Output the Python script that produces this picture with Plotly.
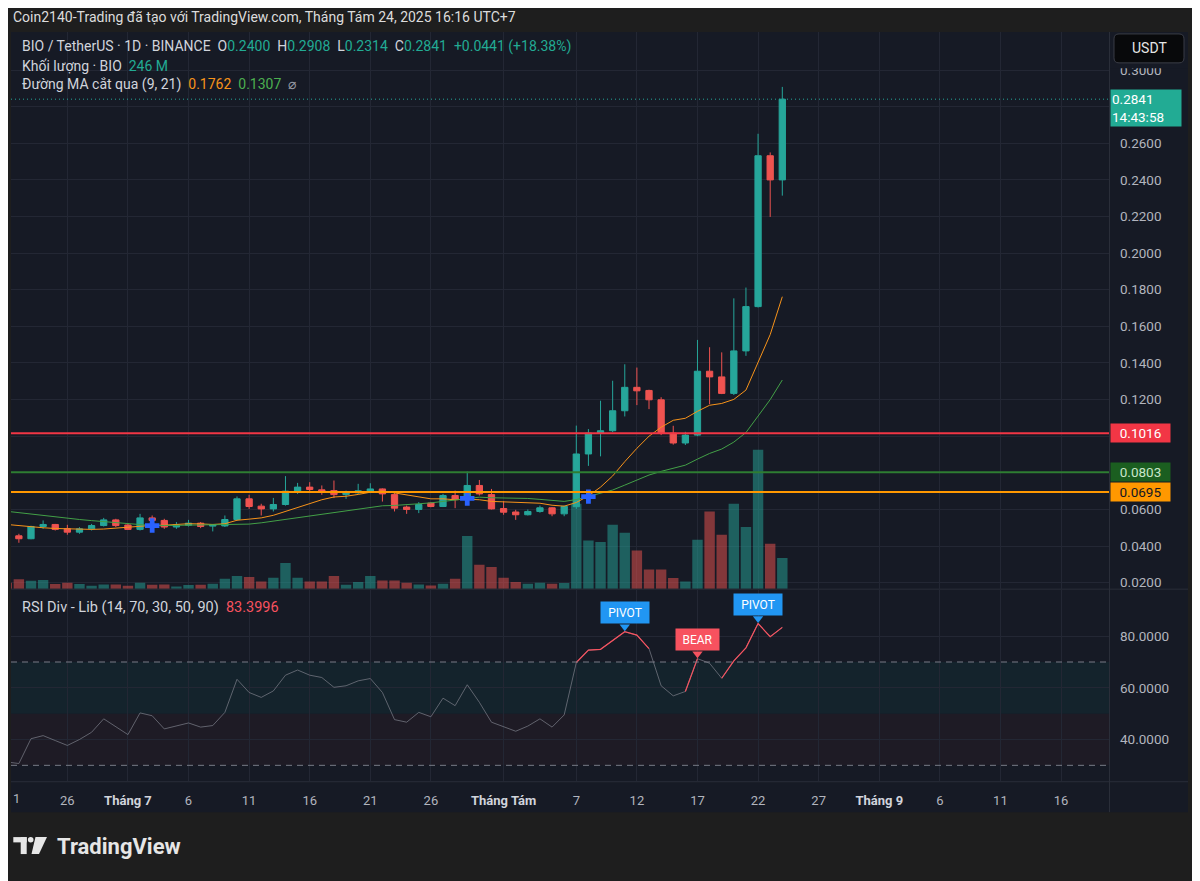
import plotly.graph_objects as go
import pandas as pd

# The page is photographed with the browser's 8px body margin, so the figure is
# sized/offset to land on the reference pixel grid.
OFF = 8
W, H = 1200 - OFF, 881 - OFF
def px(x): return (x - OFF) / W
def py(y): return 1 - (y - OFF) / H

# ---------------- data ----------------
dates = pd.date_range("2025-06-21", periods=65, freq="D")

opens = [0.0489, 0.0456, 0.0440, 0.0507, 0.0518, 0.0495, 0.0476, 0.0494, 0.0512, 0.0543,
         0.0515, 0.0491, 0.0554, 0.0540, 0.0504, 0.0514, 0.0525, 0.0509, 0.0510, 0.0545,
         0.0658, 0.0618, 0.0603, 0.0627, 0.0700, 0.0722, 0.0707, 0.0703, 0.0681, 0.0691,
         0.0700, 0.0712, 0.0681, 0.0613, 0.0600, 0.0635, 0.0616, 0.0676, 0.0665, 0.0731,
         0.0681, 0.0605, 0.0586, 0.0571, 0.0589, 0.0609, 0.0576, 0.0615, 0.0903, 0.1017,
         0.1030, 0.1139, 0.1267, 0.1250, 0.1199, 0.1017, 0.0963, 0.1006, 0.1355, 0.1324,
         0.1234, 0.1466, 0.1708, 0.2532, 0.2400]
highs = [0.0505, 0.0467, 0.0511, 0.0540, 0.0521, 0.0516, 0.0503, 0.0521, 0.0554, 0.0549,
         0.0525, 0.0576, 0.0567, 0.0549, 0.0531, 0.0543, 0.0531, 0.0521, 0.0567, 0.0671,
         0.0680, 0.0631, 0.0663, 0.0782, 0.0745, 0.0749, 0.0731, 0.0758, 0.0703, 0.0740,
         0.0743, 0.0715, 0.0689, 0.0621, 0.0640, 0.0640, 0.0685, 0.0703, 0.0807, 0.0761,
         0.0712, 0.0645, 0.0598, 0.0600, 0.0621, 0.0613, 0.0621, 0.1058, 0.1039, 0.1194,
         0.1303, 0.1393, 0.1375, 0.1254, 0.1213, 0.1057, 0.1024, 0.1526, 0.1486, 0.1458,
         0.1753, 0.1812, 0.2652, 0.2550, 0.2908]
lows = [0.0440, 0.0418, 0.0437, 0.0494, 0.0485, 0.0462, 0.0467, 0.0485, 0.0507, 0.0504,
        0.0489, 0.0485, 0.0531, 0.0494, 0.0494, 0.0507, 0.0498, 0.0480, 0.0504, 0.0540,
        0.0603, 0.0567, 0.0589, 0.0621, 0.0685, 0.0694, 0.0680, 0.0662, 0.0658, 0.0685,
        0.0689, 0.0643, 0.0589, 0.0576, 0.0580, 0.0612, 0.0613, 0.0607, 0.0658, 0.0676,
        0.0600, 0.0571, 0.0543, 0.0567, 0.0582, 0.0563, 0.0563, 0.0603, 0.0838, 0.0890,
        0.1023, 0.1108, 0.1170, 0.1148, 0.1006, 0.0954, 0.0952, 0.1000, 0.1175, 0.1230,
        0.1225, 0.1439, 0.1703, 0.2198, 0.2314]
closes = [0.0456, 0.0440, 0.0507, 0.0518, 0.0491, 0.0476, 0.0494, 0.0512, 0.0543, 0.0512,
          0.0491, 0.0554, 0.0540, 0.0504, 0.0516, 0.0525, 0.0507, 0.0516, 0.0545, 0.0658,
          0.0616, 0.0603, 0.0627, 0.0700, 0.0722, 0.0709, 0.0700, 0.0681, 0.0694, 0.0702,
          0.0712, 0.0685, 0.0607, 0.0600, 0.0627, 0.0616, 0.0676, 0.0654, 0.0731, 0.0685,
          0.0603, 0.0585, 0.0571, 0.0589, 0.0609, 0.0576, 0.0617, 0.0903, 0.1017, 0.1030,
          0.1139, 0.1267, 0.1248, 0.1199, 0.1017, 0.0963, 0.1006, 0.1355, 0.1324, 0.1234,
          0.1466, 0.1708, 0.2532, 0.2400, 0.2841]
volumes_m = [48, 75, 64, 70, 38, 48, 38, 24, 34, 34,
             24, 48, 32, 34, 18, 30, 32, 40, 80, 102,
             94, 58, 88, 205, 88, 58, 58, 102, 32, 54,
             102, 66, 66, 48, 34, 26, 40, 80, 422, 192,
             174, 88, 54, 40, 48, 40, 46, 680, 386, 374,
             512, 448, 306, 154, 154, 86, 58, 392, 618, 432,
             680, 494, 1114, 360, 246]
ma9 = [0.0518, 0.0511, 0.0505, 0.0500, 0.0496, 0.0494, 0.0493, 0.0491, 0.0493, 0.0499,
       0.0505, 0.0510, 0.0513, 0.0514, 0.0518, 0.0522, 0.0521, 0.0518, 0.0522, 0.0541,
       0.0547, 0.0554, 0.0568, 0.0589, 0.0610, 0.0633, 0.0653, 0.0668, 0.0672, 0.0682,
       0.0694, 0.0701, 0.0690, 0.0677, 0.0668, 0.0658, 0.0658, 0.0653, 0.0656, 0.0653,
       0.0644, 0.0642, 0.0639, 0.0634, 0.0634, 0.0623, 0.0618, 0.0638, 0.0674, 0.0722,
       0.0783, 0.0861, 0.0934, 0.1000, 0.1049, 0.1087, 0.1098, 0.1136, 0.1169, 0.1179,
       0.1201, 0.1252, 0.1401, 0.1555, 0.1762]
ma21 = [0.0590, 0.0582, 0.0574, 0.0566, 0.0558, 0.0551, 0.0545, 0.0539, 0.0533, 0.0527,
        0.0522, 0.0517, 0.0512, 0.0512, 0.0513, 0.0514, 0.0515, 0.0516, 0.0517, 0.0518,
        0.0520, 0.0527, 0.0536, 0.0545, 0.0555, 0.0565, 0.0576, 0.0585, 0.0594, 0.0601,
        0.0611, 0.0620, 0.0622, 0.0625, 0.0631, 0.0636, 0.0643, 0.0650, 0.0660, 0.0667,
        0.0664, 0.0663, 0.0661, 0.0660, 0.0655, 0.0648, 0.0644, 0.0654, 0.0670, 0.0686,
        0.0706, 0.0733, 0.0760, 0.0788, 0.0808, 0.0824, 0.0842, 0.0875, 0.0906, 0.0930,
        0.0968, 0.1020, 0.1113, 0.1200, 0.1307]
rsi = [31.3, 30.7, 40.3, 41.5, 39.6, 37.7, 40.0, 42.8, 48.0, 45.0,
       41.9, 50.3, 49.2, 44.1, 45.2, 46.4, 44.8, 45.4, 50.5, 63.3,
       58.2, 56.3, 58.8, 64.9, 66.9, 64.9, 64.0, 60.2, 60.8, 62.7,
       63.6, 58.2, 47.7, 46.7, 50.5, 48.8, 56.0, 53.1, 61.2, 54.4,
       46.7, 44.8, 43.2, 45.2, 48.0, 44.8, 49.5, 69.8, 74.6, 74.9,
       78.3, 81.7, 80.4, 75.2, 60.8, 56.9, 58.6, 71.3, 69.5, 63.7,
       70.4, 75.5, 84.9, 79.8, 83.4]

level_prices = [0.1016, 0.0803, 0.0695]
level_colors = ["#f23645", "#2e7d32", "#ff9800"]
level_box = ["#f23645", "#1b5e20", "#ff9800"]
level_text = ["#ffffff", "#c8e6c9", "#131722"]
last_price = 0.2841
countdown = "14:43:58"

price_ticks = [0.02, 0.04, 0.06, 0.08, 0.10, 0.12, 0.14, 0.16, 0.18, 0.20, 0.22, 0.24, 0.26, 0.28, 0.30]
price_hidden = [0.08, 0.10, 0.28]   # labels covered by the price tags in the reference
rsi_ticks = [40, 60, 80]
x_tickvals = ["2025-06-21", "2025-06-26", "2025-07-01", "2025-07-06", "2025-07-11", "2025-07-16",
              "2025-07-21", "2025-07-26", "2025-08-01", "2025-08-07", "2025-08-12", "2025-08-17",
              "2025-08-22", "2025-08-27", "2025-09-01", "2025-09-06", "2025-09-11", "2025-09-16"]
MON = "<span style='color:#d1d4dc'><b>%s</b></span>"
x_ticktext = ["21", "26", MON % "Tháng 7", "6", "11", "16", "21", "26", MON % "Tháng Tám",
              "7", "12", "17", "22", "27", MON % "Tháng 9", "6", "11", "16"]
pivot_idx = [51, 62]
bear_idx = [57]

# ---------------- style ----------------
UP = "#26a69a"
DN = "#ef5350"
GRID = "#232734"
BG = "#161a25"
PAGE = "#1e1e1e"
SEP = "#2a2e39"
TXT = "#b2b5be"
FONT = "Roboto, Inter, Arial, sans-serif"
XR = ["2025-06-21 08:24", "2025-09-19 23:02"]

fig = go.Figure()

vol_colors = ["rgba(38,166,154,0.5)" if c >= o else "rgba(239,83,80,0.5)" for o, c in zip(opens, closes)]
fig.add_trace(go.Bar(x=dates, y=volumes_m, marker=dict(color=vol_colors, line=dict(width=0)),
                     width=0.86 * 86400000, xaxis="x", yaxis="y", hoverinfo="skip"))

fig.add_trace(go.Candlestick(x=dates, open=opens, high=highs, low=lows, close=closes,
                             increasing=dict(line=dict(color=UP, width=1), fillcolor=UP),
                             decreasing=dict(line=dict(color=DN, width=1), fillcolor=DN),
                             whiskerwidth=0, xaxis="x", yaxis="y2", hoverinfo="skip"))

fig.add_trace(go.Scatter(x=dates, y=ma9, mode="lines", line=dict(color="#f7931a", width=1),
                         xaxis="x", yaxis="y2", hoverinfo="skip"))
fig.add_trace(go.Scatter(x=dates, y=ma21, mode="lines", line=dict(color="#43a047", width=1),
                         xaxis="x", yaxis="y2", hoverinfo="skip"))

# MA cross markers
cx, cy = [], []
for i in range(1, len(ma9)):
    if (ma9[i] - ma21[i]) * (ma9[i - 1] - ma21[i - 1]) < 0:
        cx.append(dates[i]); cy.append(ma21[i])
fig.add_trace(go.Scatter(x=cx, y=cy, mode="markers",
                         marker=dict(symbol="cross", size=12, color="#2962ff", line=dict(width=0)),
                         xaxis="x", yaxis="y2", hoverinfo="skip"))

# RSI
fig.add_trace(go.Scatter(x=dates, y=rsi, mode="lines", line=dict(color="rgba(120,123,134,0.75)", width=1),
                         xaxis="x2", yaxis="y3", hoverinfo="skip"))
rx, ry = [], []
prev_end = None
for i in range(1, len(rsi)):
    if rsi[i] > 70:
        if prev_end != i - 1:
            if rx:
                rx.append(None); ry.append(None)
            rx.append(dates[i - 1]); ry.append(rsi[i - 1])
        rx.append(dates[i]); ry.append(rsi[i])
        prev_end = i
fig.add_trace(go.Scatter(x=rx, y=ry, mode="lines", line=dict(color="#f7525f", width=1.2),
                         xaxis="x2", yaxis="y3", hoverinfo="skip", connectgaps=False))

# label pointers
tri_x = [dates[i] for i in pivot_idx + bear_idx]
tri_y = [rsi[i] + 1.9 for i in pivot_idx + bear_idx]
tri_c = ["#2196f3"] * len(pivot_idx) + ["#f7525f"] * len(bear_idx)
fig.add_trace(go.Scatter(x=tri_x, y=tri_y, mode="markers",
                         marker=dict(symbol="triangle-down", size=9, color=tri_c, line=dict(width=0)),
                         xaxis="x2", yaxis="y3", hoverinfo="skip"))

# ---------------- shapes ----------------
shapes = []
shapes.append(dict(type="rect", xref="paper", yref="paper", x0=px(11), x1=px(1188), y0=py(814), y1=py(32),
                   fillcolor=BG, line=dict(width=0), layer="below"))
for yy in [590.5, 783.5]:
    shapes.append(dict(type="line", xref="paper", yref="paper", x0=px(11), x1=px(1188), y0=py(yy), y1=py(yy),
                       line=dict(color=SEP, width=1), layer="below"))
shapes.append(dict(type="line", xref="paper", yref="paper", x0=px(1109.5), x1=px(1109.5), y0=py(814), y1=py(32),
                   line=dict(color=SEP, width=1), layer="below"))
# RSI bands
shapes.append(dict(type="rect", xref="x2 domain", yref="y3", x0=0, x1=1, y0=50, y1=70,
                   fillcolor="rgba(0,150,136,0.07)", line=dict(width=0), layer="below"))
shapes.append(dict(type="rect", xref="x2 domain", yref="y3", x0=0, x1=1, y0=30, y1=50,
                   fillcolor="rgba(242,54,69,0.035)", line=dict(width=0), layer="below"))
for lv in [70, 30]:
    shapes.append(dict(type="line", xref="x2 domain", yref="y3", x0=0, x1=1, y0=lv, y1=lv,
                       line=dict(color="#787b86", width=1, dash="6px,5px"), layer="above"))
# level lines
for p, c in zip(level_prices, level_colors):
    shapes.append(dict(type="line", xref="x domain", yref="y2", x0=0, x1=1, y0=p, y1=p,
                       line=dict(color=c, width=2), layer="above"))
shapes.append(dict(type="line", xref="x domain", yref="y2", x0=0, x1=1, y0=last_price, y1=last_price,
                   line=dict(color=UP, width=1, dash="1px,3px"), layer="above"))
# mask at top of price scale + USDT box
shapes.append(dict(type="rect", xref="paper", yref="paper", x0=px(1110), x1=px(1188), y0=py(68.5), y1=py(32),
                   fillcolor=BG, line=dict(width=0), layer="above"))

def rrect(x0, y0, x1, y1, r):
    P = lambda x, y: "%.6f,%.6f" % (px(x), py(y))
    return ("M" + P(x0 + r, y0) + " L" + P(x1 - r, y0) + " Q" + P(x1, y0) + " " + P(x1, y0 + r) +
            " L" + P(x1, y1 - r) + " Q" + P(x1, y1) + " " + P(x1 - r, y1) +
            " L" + P(x0 + r, y1) + " Q" + P(x0, y1) + " " + P(x0, y1 - r) +
            " L" + P(x0, y0 + r) + " Q" + P(x0, y0) + " " + P(x0 + r, y0) + " Z")

shapes.append(dict(type="path", xref="paper", yref="paper", path=rrect(1114, 34, 1184, 63, 5),
                   fillcolor="#08090b", line=dict(color="#3a3d46", width=1), layer="above"))

# TradingView logo
LOGO = "#e6e6e6"
shapes.append(dict(type="rect", xref="paper", yref="paper", x0=px(13.3), x1=px(26.7), y0=py(844.3), y1=py(839),
                   fillcolor=LOGO, line=dict(width=0), layer="above"))
shapes.append(dict(type="rect", xref="paper", yref="paper", x0=px(20.7), x1=px(26.7), y0=py(856), y1=py(839),
                   fillcolor=LOGO, line=dict(width=0), layer="above"))
shapes.append(dict(type="circle", xref="paper", yref="paper", x0=px(27.9), x1=px(33.5), y0=py(844.5), y1=py(838.9),
                   fillcolor=LOGO, line=dict(width=0), layer="above"))
pts = [(35.5, 839), (47, 839), (39, 856), (31.5, 856)]
shapes.append(dict(type="path", xref="paper", yref="paper",
                   path="M" + " L".join("%.6f,%.6f" % (px(a), py(b)) for a, b in pts) + " Z",
                   fillcolor=LOGO, line=dict(width=0), layer="above"))

# ---------------- annotations ----------------
ann = []
def A(x, y, text, size=14, color="#d1d4dc", **kw):
    d = dict(xref="paper", yref="paper", x=px(x), y=py(y), text=text, showarrow=False,
             xanchor="left", yanchor="middle", font=dict(family=FONT, size=size, color=color))
    d.update(kw)
    ann.append(d)

S = "\u00a0"
def col(t, c): return "<span style='color:%s'>%s</span>" % (c, t)
TEAL = "#22ab94"
A(11, 17, "Coin2140-Trading đã tạo với TradingView.com, Tháng Tám 24, 2025 16:16 UTC+7", size=14, color="#dcdcdc")
A(20, 47, "BIO / TetherUS · 1D · BINANCE" + S * 2 + "O" + col("0.2400", TEAL) + S * 2 + "H" + col("0.2908", TEAL) +
  S * 2 + "L" + col("0.2314", TEAL) + S * 2 + "C" + col("0.2841", TEAL) + S * 2 + col("+0.0441 (+18.38%)", TEAL))
A(20, 66, "Khối lượng · BIO" + S * 2 + col("246" + S + "M", TEAL))
A(20, 85, "Đường MA cắt qua (9, 21)" + S * 2 + col("0.1762", "#f7931a") + S * 2 + col("0.1307", "#4caf50") +
  S * 2 + col("⌀", "#9598a1"))
A(20, 609, "RSI Div - Lib (14, 70, 30, 50, 90)" + S * 2 + col("83.3996", "#f7525f"), size=14.5)
A(10.5, 800, "1", size=13, color=TXT)
A(1149, 48.5, "USDT", size=14, color="#e6e6e6", xanchor="center")
A(55, 848, "<b>TradingView</b>", size=22, color=LOGO)

for p, bc, tc in zip(level_prices, level_box, level_text):
    ann.append(dict(xref="paper", yref="y2", x=px(1110), y=p, xanchor="left", yanchor="middle",
                    text="%.4f" % p, showarrow=False, bgcolor=bc, width=57, height=16, borderpad=1,
                    align="center", font=dict(family=FONT, size=13.5, color=tc)))
ann.append(dict(xref="paper", yref="y2", x=px(1110), y=last_price, xanchor="left", yanchor="top", yshift=10,
                text="%.4f<br>%s" % (last_price, countdown), showarrow=False, bgcolor="#22ab94",
                width=68, borderpad=1, align="left", font=dict(family=FONT, size=13.5, color="#ffffff")))

for i in pivot_idx:
    ann.append(dict(xref="x2", yref="y3", x=dates[i], y=rsi[i], text="PIVOT", showarrow=False,
                    xanchor="center", yanchor="bottom", yshift=8, bgcolor="#2196f3", borderpad=4,
                    width=40, height=13, font=dict(family=FONT, size=12, color="#ffffff")))
for i in bear_idx:
    ann.append(dict(xref="x2", yref="y3", x=dates[i], y=rsi[i], text="BEAR", showarrow=False,
                    xanchor="center", yanchor="bottom", yshift=8, bgcolor="#f7525f", borderpad=4,
                    width=35, height=13, font=dict(family=FONT, size=12, color="#ffffff")))

price_ticktext = ["" if v in price_hidden else "%.4f" % v for v in price_ticks]

fig.update_layout(
    width=W, height=H, margin=dict(l=0, r=0, t=0, b=0),
    paper_bgcolor=PAGE, plot_bgcolor="rgba(0,0,0,0)",
    showlegend=False, hovermode=False, boxgap=0.26,
    font=dict(family=FONT, color=TXT, size=13),
    xaxis=dict(domain=[px(11), px(1109)], range=XR, type="date", anchor="y", tickvals=x_tickvals,
               showticklabels=False, showgrid=True, gridcolor=GRID, zeroline=False, showline=False,
               ticks="", rangeslider=dict(visible=False)),
    xaxis2=dict(domain=[px(11), px(1109)], range=XR, type="date", anchor="y3", tickvals=x_tickvals,
                ticktext=x_ticktext, tickfont=dict(family=FONT, size=13, color=TXT), showgrid=True,
                gridcolor=GRID, zeroline=False, showline=False, ticks="", ticklabelstandoff=10),
    yaxis=dict(domain=[py(590), py(32)], range=[0, 4464], visible=False, anchor="x", fixedrange=True),
    yaxis2=dict(overlaying="y", side="right", anchor="x", range=[0.01673, 0.32082], tickvals=price_ticks,
                ticktext=price_ticktext, showgrid=True, gridcolor=GRID, zeroline=False, showline=False,
                ticks="", ticklabelstandoff=10, tickfont=dict(family=FONT, size=13.5, color=TXT)),
    yaxis3=dict(domain=[py(783), py(591)], anchor="x2", side="right", range=[23.85, 98], tickvals=rsi_ticks,
                tickformat=".4f", showgrid=True, gridcolor=GRID, zeroline=False, showline=False, ticks="",
                ticklabelstandoff=10, tickfont=dict(family=FONT, size=13.5, color=TXT)),
    shapes=shapes, annotations=ann,
)

fig.write_html("out.html")
